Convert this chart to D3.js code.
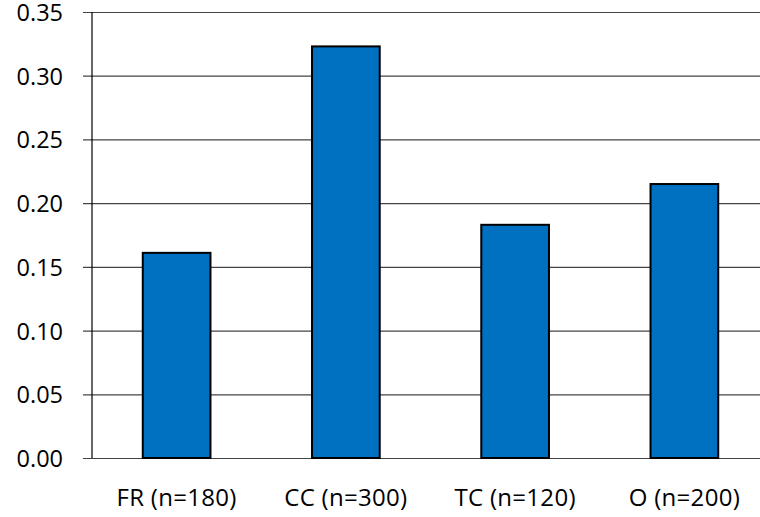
<!DOCTYPE html>
<html>
<head>
<meta charset="utf-8">
<script src="https://cdn.jsdelivr.net/npm/d3@7"></script>
<style>
  body { margin: 0; background: #fff; }
  svg text { font-family: "Open Sans", sans-serif; fill: #000; }
</style>
</head>
<body>
<svg id="chart" width="760" height="517"></svg>
<script>
// chart data
var categories = ['FR (n=180)', 'CC (n=300)', 'TC (n=120)', 'O (n=200)'];
var values = [0.161, 0.323, 0.183, 0.215];
var yTicks = [0, 0.05, 0.10, 0.15, 0.20, 0.25, 0.30, 0.35];

var margin = { top: 12, right: -9, bottom: 59, left: 92 };
var width = 760 - margin.left - margin.right;
var height = 517 - margin.top - margin.bottom;

var svg = d3.select('svg#chart');
var g = svg.append('g').attr('transform', 'translate(' + margin.left + ',' + margin.top + ')');

var x = d3.scaleBand()
    .domain(categories)
    .range([0, width])
    .paddingInner(0.6)
    .paddingOuter(0.3);

var y = d3.scaleLinear()
    .domain([0, 0.35])
    .range([height, 0]);

// gridlines + tick marks
var yAxis = d3.axisLeft(y)
    .tickValues(yTicks)
    .tickFormat(d3.format('.2f'))
    .tickSize(-width)
    .tickPadding(29);

var ga = g.append('g').attr('class', 'y-axis').call(yAxis);
ga.select('.domain').remove();
ga.selectAll('.tick line')
    .attr('x1', -9)
    .attr('stroke', '#444')
    .attr('stroke-width', 1.2);
ga.selectAll('.tick text')
    .style('font-size', '23.5px')
    .attr('dy', '0.36em');

// left axis line
g.append('line')
    .attr('x1', 0).attr('x2', 0)
    .attr('y1', 0).attr('y2', height)
    .attr('stroke', '#000')
    .attr('stroke-width', 1.2);

// bars
g.selectAll('.bar')
    .data(values)
    .enter().append('rect')
        .attr('class', 'bar')
        .attr('x', function(d, i) { return x(categories[i]); })
        .attr('width', x.bandwidth())
        .attr('y', function(d) { return y(d); })
        .attr('height', function(d) { return height - y(d); })
        .attr('fill', '#0070c0')
        .attr('stroke', '#000')
        .attr('stroke-width', 2);

// category labels
g.selectAll('.xlabel')
    .data(categories)
    .enter().append('text')
        .attr('class', 'xlabel')
        .attr('x', function(d) { return x(d) + x.bandwidth() / 2; })
        .attr('y', height + 39)
        .attr('dy', '0.36em')
        .attr('text-anchor', 'middle')
        .style('font-size', '24px')
        .style('letter-spacing', '0.3px')
        .text(function(d) { return d; });
</script>
</body>
</html>
